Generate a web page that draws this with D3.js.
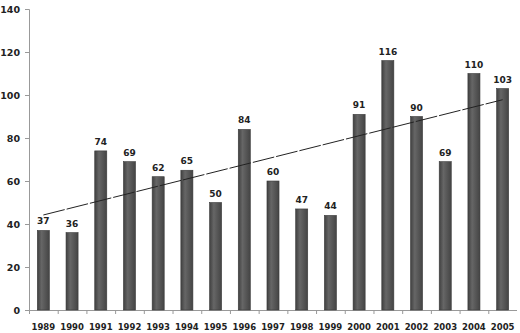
<!DOCTYPE html>
<html>
<head>
<meta charset="utf-8">
<script src="https://cdn.jsdelivr.net/npm/d3@7"></script>
<style>
  html, body { margin: 0; padding: 0; background: #fff; }
  svg { display: block; }
  text { font-family: "DejaVu Sans", sans-serif; font-weight: bold; fill: #222; }
</style>
</head>
<body>
<svg id="chart" width="520" height="333"></svg>
<script>
const years = ['1989', '1990', '1991', '1992', '1993', '1994', '1995', '1996', '1997',
  '1998', '1999', '2000', '2001', '2002', '2003', '2004', '2005'];
const counts = [37, 36, 74, 69, 62, 65, 50, 84, 60, 47, 44, 91, 116, 90, 69, 110, 103];
const yTicks = [0, 20, 40, 60, 80, 100, 120, 140];
// trend line end values (first and last year)
const trend = [44.2, 97.8];

const plotLeft = 29;
const plotRight = 517;
const plotTop = 9;
const plotBottom = 310;

const svg = d3.select('#chart');

// gradient for the bars
const grad = svg.append('defs').append('linearGradient')
  .attr('id', 'barGrad')
  .attr('x1', '0%').attr('y1', '0%')
  .attr('x2', '100%').attr('y2', '0%');
grad.append('stop').attr('offset', '0%').style('stop-color', '#404040');
grad.append('stop').attr('offset', '35%').style('stop-color', '#666');
grad.append('stop').attr('offset', '100%').style('stop-color', '#444');

const x = d3.scaleBand()
  .domain(years)
  .range([plotLeft, plotRight])
  .paddingInner(0.58)
  .paddingOuter(0.29);

const y = d3.scaleLinear()
  .domain([0, 140])
  .range([plotBottom, plotTop]);

// y 轴
const yAxis = d3.axisLeft(y)
  .tickValues(yTicks)
  .tickSize(4)
  .tickPadding(5);
const gy = svg.append('g')
  .attr('transform', `translate(${plotLeft} 0)`)
  .call(yAxis);
gy.select('.domain').attr('stroke', '#999');
gy.selectAll('.tick line').attr('stroke', '#999');
gy.selectAll('text').attr('font-size', 9.5).attr('font-family', '"DejaVu Sans", sans-serif').attr('fill', '#222');

// x 轴
const xAxis = d3.axisBottom(x)
  .tickSize(0)
  .tickPadding(14);
const gx = svg.append('g')
  .attr('transform', `translate(0 ${plotBottom})`)
  .call(xAxis);
gx.select('.domain').attr('stroke', '#999').attr('d', `M${plotLeft},0.5H${plotRight}`);
gx.selectAll('text').attr('font-size', 8.5).attr('font-family', '"DejaVu Sans", sans-serif').attr('fill', '#222');

// tick marks between categories
gx.selectAll('.sep')
  .data(years)
  .enter()
  .append('line')
  .attr('class', 'sep')
  .attr('x1', d => x(d) - x.step() * x.paddingInner() / 2 + 0.5)
  .attr('x2', d => x(d) - x.step() * x.paddingInner() / 2 + 0.5)
  .attr('y1', 0)
  .attr('y2', 4)
  .attr('stroke', '#999');

// bars
svg.append('g')
  .selectAll('rect')
  .data(counts)
  .enter()
  .append('rect')
  .attr('x', (d, i) => x(years[i]))
  .attr('y', d => y(d))
  .attr('width', x.bandwidth())
  .attr('height', d => y(0) - y(d))
  .attr('fill', 'url(#barGrad)')
  .attr('stroke', '#3a3a3a')
  .attr('stroke-width', 0.6);

// trend line
svg.append('line')
  .attr('x1', x(years[0]) + x.bandwidth() / 2)
  .attr('y1', y(trend[0]))
  .attr('x2', x(years[years.length - 1]) + x.bandwidth() / 2)
  .attr('y2', y(trend[1]))
  .attr('stroke', '#222')
  .attr('stroke-width', 1)
  .attr('stroke-dasharray', '22,2');

// value labels
svg.append('g')
  .selectAll('text')
  .data(counts)
  .enter()
  .append('text')
  .attr('x', (d, i) => x(years[i]) + x.bandwidth() / 2)
  .attr('y', d => y(d) - 6)
  .attr('text-anchor', 'middle')
  .attr('font-size', 9)
  .text(d => d);
</script>
</body>
</html>
